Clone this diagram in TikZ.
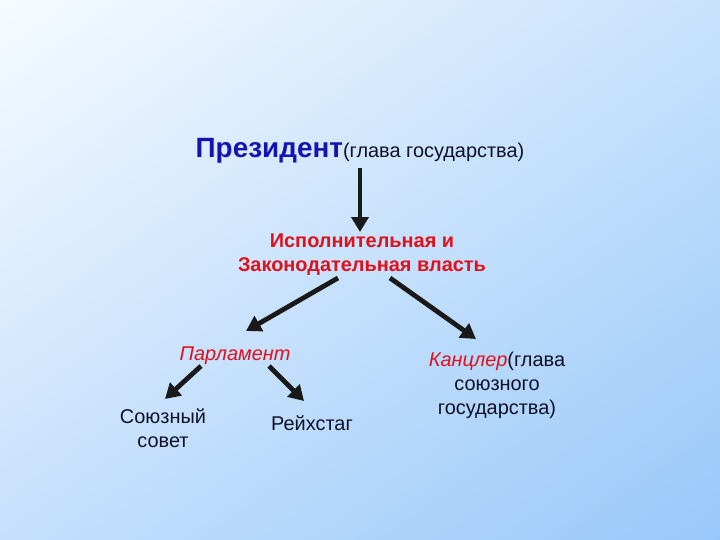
\documentclass[tikz,border=0pt]{standalone}
\usepackage{fontspec}
\setmainfont{Liberation Sans}
\usetikzlibrary{arrows.meta,shadings}
\definecolor{presblue}{HTML}{1414B4}
\definecolor{redtxt}{HTML}{E0101C}
\definecolor{darktxt}{HTML}{101028}
\definecolor{bgtl}{HTML}{F6FBFF}
\definecolor{bgtr}{HTML}{C8E2FC}
\definecolor{bgbl}{HTML}{C6E0FC}
\definecolor{bgbr}{HTML}{98C8FA}
\tikzset{
  arr/.style={line width=4.8pt, draw=black!90, -{Triangle[width=17pt,length=15pt]}},
  lbl/.style={inner sep=0pt, align=center, text=darktxt},
}
\begin{document}
\begin{tikzpicture}[x=1bp,y=-1bp]
\begin{scope}[y=1bp]
\shade[upper left=bgtl, upper right=bgtr, lower left=bgbl, lower right=bgbr] (0,0) rectangle (720,-540);
\end{scope}
\useasboundingbox (0,0) rectangle (720,540);
\node[lbl, anchor=base] (pres) at (360,158) {{\fontsize{28}{32}\selectfont\bfseries\color{presblue}Президент}{\fontsize{20}{24}\selectfont(глава государства)}};
\node[lbl, text=redtxt, font=\fontsize{20}{24}\selectfont\bfseries] (exec) at (362,255) {Исполнительная и\\Законодательная власть};
\node[lbl, text=redtxt, font=\fontsize{20}{24}\selectfont\itshape] (parl) at (235,356) {Парламент};
\node[lbl, font=\fontsize{20}{24}\selectfont] (sov) at (163,428) {Союзный\\совет};
\node[lbl, font=\fontsize{20}{24}\selectfont] (reich) at (312,423) {Рейхстаг};
\node[lbl, font=\fontsize{20}{24}\selectfont] (kanz) at (497,385) {{\color{redtxt}\itshape Канцлер}(глава\\союзного\\государства)};
\coordinate (p1) at (360,168);
\coordinate (e1) at (360,232);
\coordinate (e2) at (338,278);
\coordinate (pa1) at (246,331);
\coordinate (e3) at (390,278);
\coordinate (k1) at (476,339);
\coordinate (pa2) at (201,366);
\coordinate (s1) at (165,399);
\coordinate (pa3) at (269,366);
\coordinate (r1) at (304,401);
\draw[arr] (p1) -- (e1);
\draw[arr] (e2) -- (pa1);
\draw[arr] (e3) -- (k1);
\draw[arr] (pa2) -- (s1);
\draw[arr] (pa3) -- (r1);
\end{tikzpicture}
\end{document}
